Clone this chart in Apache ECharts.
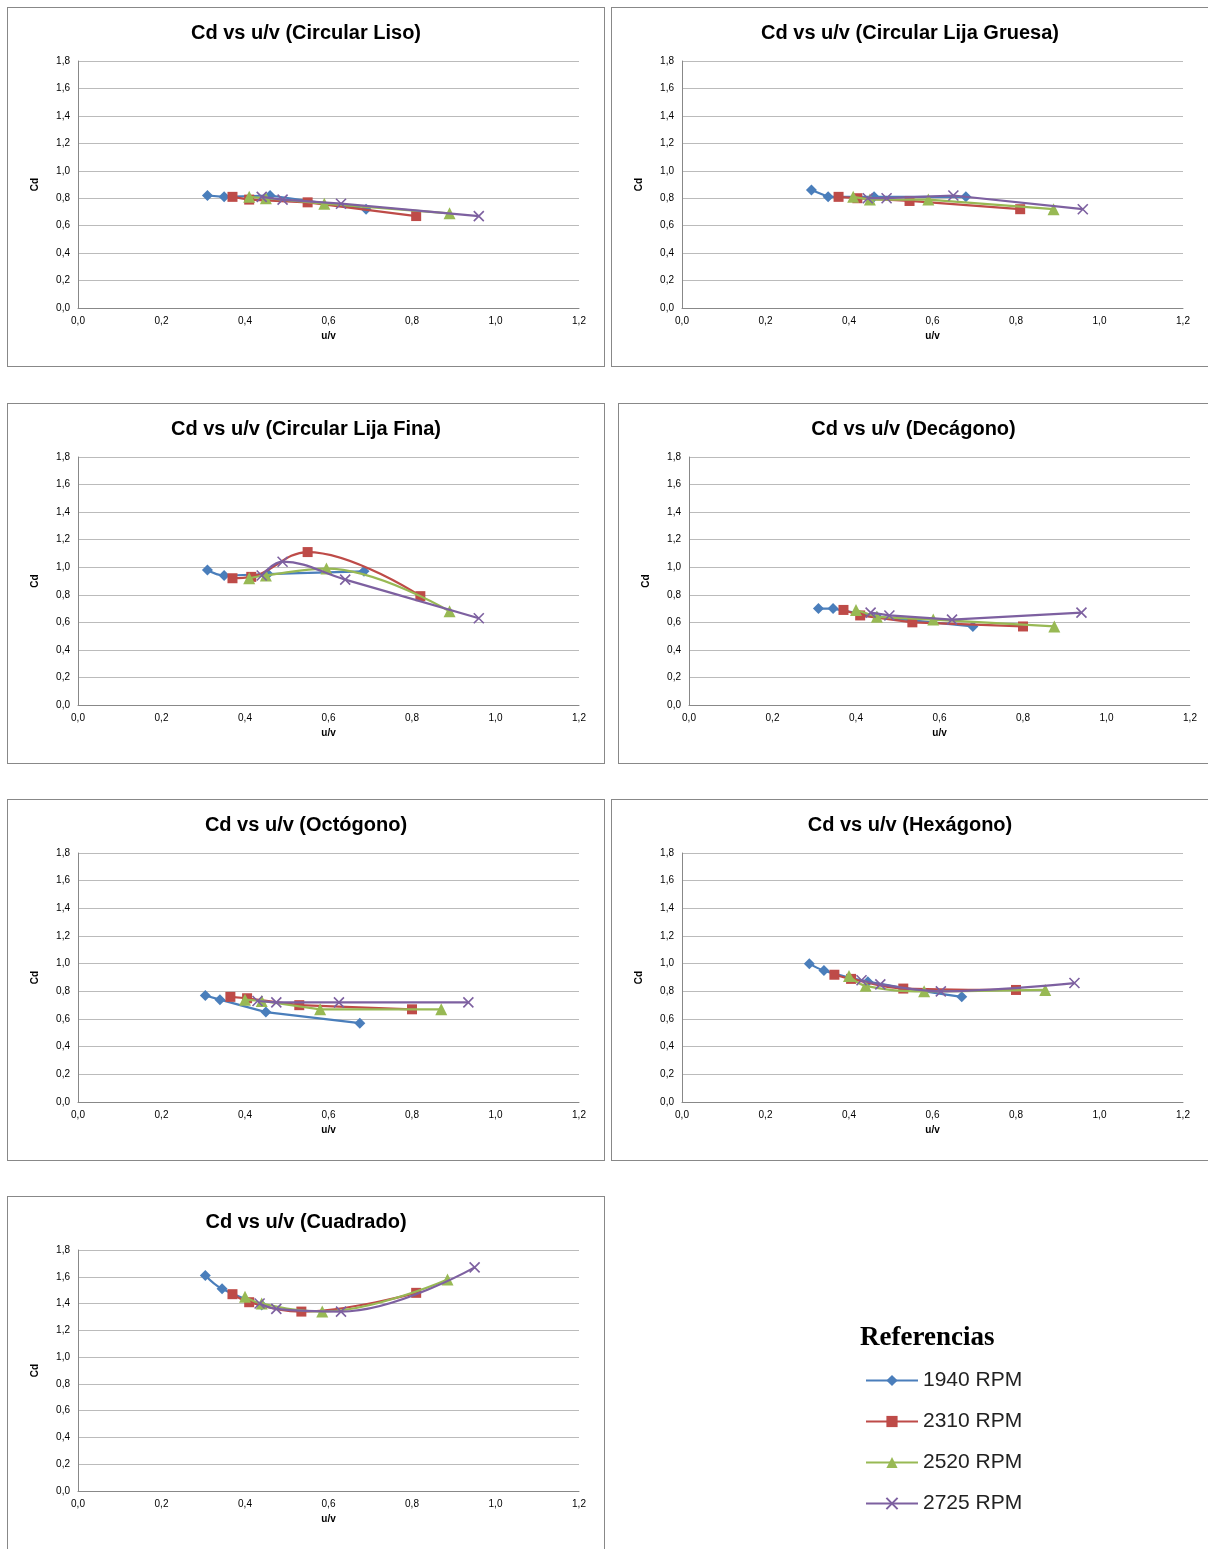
<!DOCTYPE html>
<html>
<head>
<meta charset="utf-8">
<script src="https://cdn.jsdelivr.net/npm/echarts@6/dist/echarts.min.js"></script>
<style>
body{margin:0;background:#fff;width:1208px;height:1549px;position:relative;font-family:Calibri,"Liberation Sans",sans-serif;}
.p{position:absolute;border:1px solid #888;box-sizing:border-box;background:#fff;}
</style>
</head>
<body>
<div class="p" id="c1" style="left:7px;top:7px;width:598px;height:360px"></div>
<div class="p" id="c2" style="left:611px;top:7px;width:598px;height:360px"></div>
<div class="p" id="c3" style="left:7px;top:403px;width:598px;height:361px"></div>
<div class="p" id="c4" style="left:618px;top:403px;width:591px;height:361px"></div>
<div class="p" id="c5" style="left:7px;top:799px;width:598px;height:362px"></div>
<div class="p" id="c6" style="left:611px;top:799px;width:598px;height:362px"></div>
<div class="p" id="c7" style="left:7px;top:1196px;width:598px;height:354px"></div>
<div id="leg" style="position:absolute;left:840px;top:1310px;width:220px;height:220px"></div>
<script type="text/javascript">
var names = ['1940 RPM','2310 RPM','2520 RPM','2725 RPM'];
var colors = ['#4A7EBB','#BE4B48','#98B954','#7D60A0'];
var symbols = ['diamond','rect','triangle','path://M0,0L10,10M10,0L0,10'];

// Circular Liso
var liso1940 = [[0.31,0.82],[0.35,0.81],[0.46,0.82],[0.69,0.72]];
var liso2310 = [[0.37,0.81],[0.41,0.79],[0.55,0.77],[0.81,0.67]];
var liso2520 = [[0.41,0.81],[0.45,0.80],[0.59,0.76],[0.89,0.69]];
var liso2725 = [[0.44,0.81],[0.49,0.79],[0.63,0.76],[0.96,0.67]];
// Circular Lija Gruesa
var grue1940 = [[0.31,0.86],[0.35,0.81],[0.46,0.81],[0.68,0.81]];
var grue2310 = [[0.375,0.81],[0.42,0.80],[0.545,0.78],[0.81,0.72]];
var grue2520 = [[0.41,0.81],[0.45,0.79],[0.59,0.79],[0.89,0.72]];
var grue2725 = [[0.445,0.80],[0.49,0.80],[0.65,0.82],[0.96,0.72]];
// Circular Lija Fina
var fina1940 = [[0.31,0.98],[0.35,0.94],[0.455,0.95],[0.685,0.97]];
var fina2310 = [[0.37,0.92],[0.415,0.93],[0.55,1.11],[0.82,0.79]];
var fina2520 = [[0.41,0.92],[0.45,0.94],[0.595,0.99],[0.89,0.68]];
var fina2725 = [[0.44,0.94],[0.49,1.04],[0.64,0.91],[0.96,0.63]];
// Decágono
var deca1940 = [[0.31,0.70],[0.345,0.70],[0.45,0.64],[0.68,0.57]];
var deca2310 = [[0.37,0.69],[0.41,0.65],[0.535,0.60],[0.80,0.57]];
var deca2520 = [[0.40,0.69],[0.45,0.64],[0.585,0.62],[0.875,0.57]];
var deca2725 = [[0.435,0.67],[0.48,0.65],[0.63,0.62],[0.94,0.67]];
// Octógono
var octo1940 = [[0.305,0.77],[0.34,0.74],[0.45,0.65],[0.675,0.57]];
var octo2310 = [[0.365,0.76],[0.405,0.75],[0.53,0.70],[0.80,0.67]];
var octo2520 = [[0.40,0.74],[0.44,0.73],[0.58,0.67],[0.87,0.67]];
var octo2725 = [[0.43,0.73],[0.475,0.72],[0.625,0.72],[0.935,0.72]];
// Hexágono
var hexa1940 = [[0.305,1.00],[0.34,0.95],[0.445,0.87],[0.67,0.76]];
var hexa2310 = [[0.365,0.92],[0.405,0.89],[0.53,0.82],[0.80,0.81]];
var hexa2520 = [[0.40,0.91],[0.44,0.84],[0.58,0.80],[0.87,0.81]];
var hexa2725 = [[0.43,0.88],[0.475,0.85],[0.62,0.80],[0.94,0.86]];
// Cuadrado
var cuad1940 = [[0.305,1.61],[0.345,1.51],[0.44,1.39]];
var cuad2310 = [[0.37,1.47],[0.41,1.41],[0.535,1.34],[0.81,1.48]];
var cuad2520 = [[0.40,1.45],[0.44,1.40],[0.585,1.34],[0.885,1.58]];
var cuad2725 = [[0.435,1.40],[0.475,1.36],[0.63,1.34],[0.95,1.67]];

function fmt(v){ return v.toFixed(1).replace('.', ','); }

function mkSeries(data, i, smooth){
    return {
        name: names[i], type: 'line', data: data, smooth: smooth ? 0.4 : false,
        symbol: symbols[i], symbolSize: i == 0 ? 11 : (i == 2 ? 12 : 10),
        lineStyle: {color: colors[i], width: 2.2},
        itemStyle: {color: colors[i], borderColor: colors[i], borderWidth: i == 3 ? 1.6 : 0},
        z: 2 + i
    };
}

function drawChart(id, title, sets, smooth, right){
    var chart = echarts.init(document.getElementById(id));
    var option = {
        animation: false,
        title: {text: title, left: 'center', top: 10,
            textStyle: {fontSize: 20, fontWeight: 'bold', color: '#000', fontFamily: 'Liberation Sans'}},
        grid: {left: 70, right: right || 25, top: 53, bottom: 58},
        xAxis: {type: 'value', min: 0, max: 1.2, interval: 0.2,
            name: 'u/v', nameLocation: 'middle', nameGap: 20,
            nameTextStyle: {fontSize: 10, fontWeight: 'bold', color: '#000'},
            axisLine: {lineStyle: {color: '#888'}}, axisTick: {show: false},
            splitLine: {show: false},
            axisLabel: {formatter: fmt, fontSize: 10, color: '#000', margin: 8}},
        yAxis: {type: 'value', min: 0, max: 1.8, interval: 0.2,
            name: 'Cd', nameLocation: 'middle', nameGap: 38,
            nameTextStyle: {fontSize: 10, fontWeight: 'bold', color: '#000'},
            axisLine: {show: true, lineStyle: {color: '#888'}}, axisTick: {show: false},
            splitLine: {lineStyle: {color: '#bbb'}},
            axisLabel: {formatter: fmt, fontSize: 10, color: '#000'}},
        series: sets.map(function(d, i){ return mkSeries(d, i, smooth); })
    };
    chart.setOption(option);
}

drawChart('c1', 'Cd vs u/v (Circular Liso)', [liso1940, liso2310, liso2520, liso2725], false);
drawChart('c2', 'Cd vs u/v (Circular Lija Gruesa)', [grue1940, grue2310, grue2520, grue2725], false);
drawChart('c3', 'Cd vs u/v (Circular Lija Fina)', [fina1940, fina2310, fina2520, fina2725], true);
drawChart('c4', 'Cd vs u/v (Decágono)', [deca1940, deca2310, deca2520, deca2725], false, 18);
drawChart('c5', 'Cd vs u/v (Octógono)', [octo1940, octo2310, octo2520, octo2725], false);
drawChart('c6', 'Cd vs u/v (Hexágono)', [hexa1940, hexa2310, hexa2520, hexa2725], true);
drawChart('c7', 'Cd vs u/v (Cuadrado)', [cuad1940, cuad2310, cuad2520, cuad2725], true);

// leyenda
var leg = echarts.init(document.getElementById('leg'));
leg.setOption({
    animation: false,
    title: {text: 'Referencias', left: 15, top: 10,
        textStyle: {fontFamily: 'Liberation Serif', fontSize: 27, fontWeight: 'bold', color: '#000'}},
    legend: {orient: 'vertical', left: 20, top: 55, itemGap: 20, itemWidth: 52, itemHeight: 14,
        textStyle: {fontSize: 21, color: '#222'}, data: names},
    xAxis: {show: false}, yAxis: {show: false}, grid: {left: -100, width: 1},
    series: names.map(function(n, i){ return mkSeries([], i, false); })
});
</script>
</body>
</html>
